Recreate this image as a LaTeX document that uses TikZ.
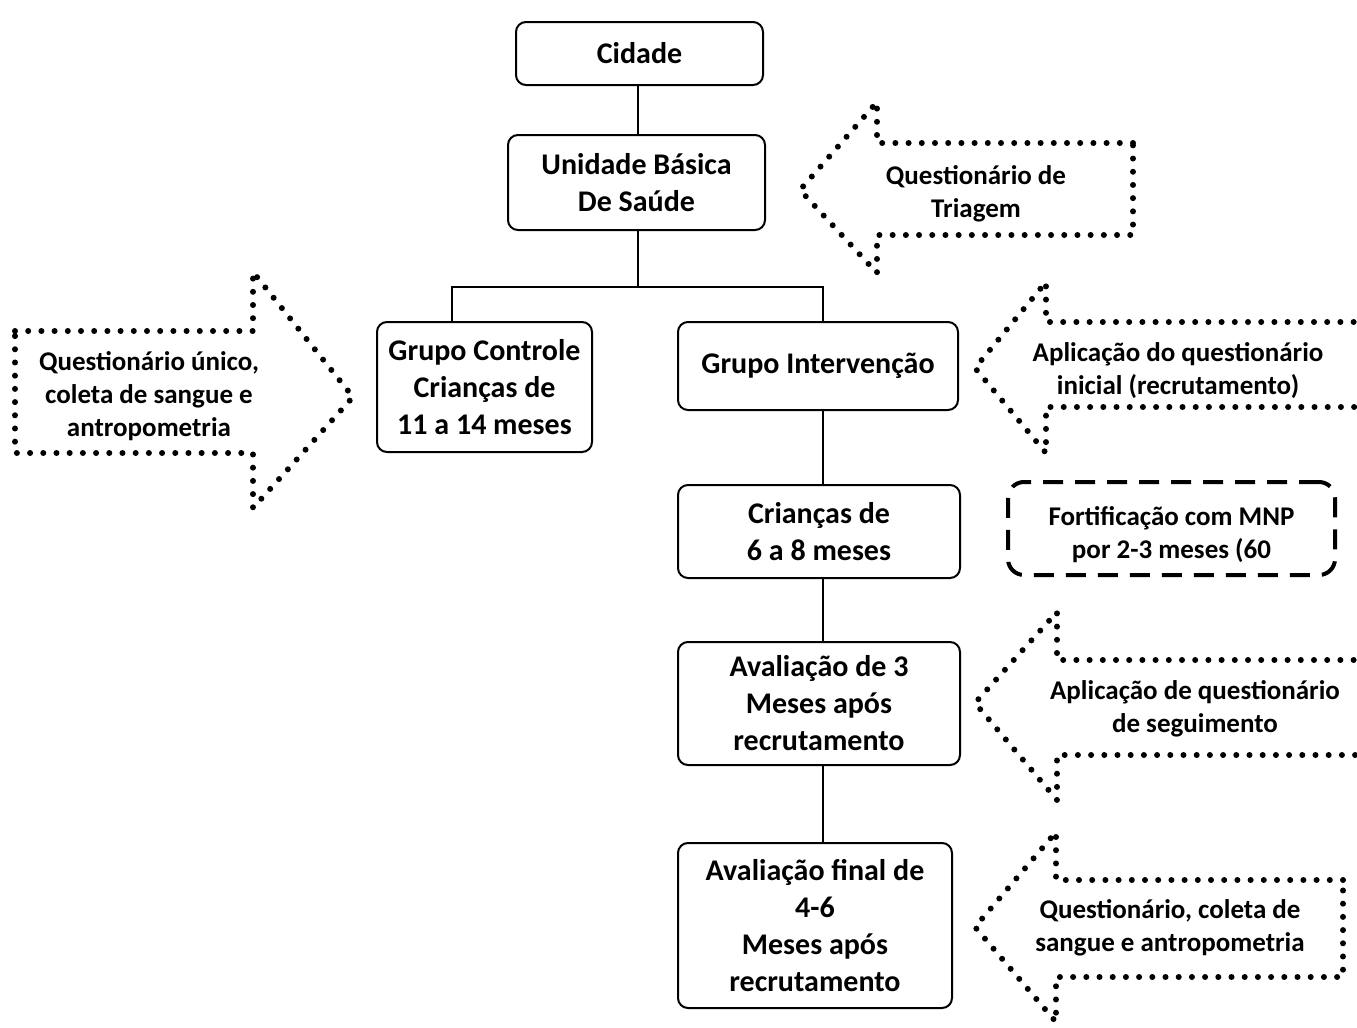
\documentclass[tikz,border=0pt]{standalone}
\usepackage{fontspec}
\setmainfont{Carlito}
\begin{document}
\begin{tikzpicture}[x=0.5pt, y=-0.5pt,
    caixa/.style={rectangle, draw, line width=1pt, rounded corners=5pt, align=center, inner sep=0pt, font=\bfseries\fontsize{15}{18.5}\selectfont},
    seta/.style={draw, line width=3pt, line cap=round, dash pattern=on 0pt off 6.6pt},
    rotulo/.style={align=center, inner sep=0pt, font=\bfseries\fontsize{13.5}{16.5}\selectfont},
    liga/.style={line width=0.8pt}
]
    \clip (0,0) rectangle (1357,1028);
    \fill[white] (0,0) rectangle (1357,1028);

    % caixas do fluxo
    \node[caixa, minimum width=123.5pt, minimum height=31.5pt] (cidade) at (639.5,53.5) {Cidade};
    \node[caixa, minimum width=128.5pt, minimum height=47.5pt] (unidade) at (636.5,182.5) {Unidade Básica\\De Saúde};
    \node[caixa, minimum width=107.5pt, minimum height=65pt] (controle) at (484.5,387) {Grupo Controle\\Crianças de\\11 a 14 meses};
    \node[caixa, minimum width=140pt, minimum height=44pt] (intervencao) at (818,366) {Grupo Intervenção};
    \node[caixa, minimum width=141pt, minimum height=46.5pt] (criancas) at (819,531.5) {Crianças de\\6 a 8 meses};
    \node[caixa, minimum width=141pt, minimum height=61.5pt] (avaliacao) at (819,703.5) {Avaliação de 3\\Meses após\\recrutamento};
    \node[caixa, minimum width=137pt, minimum height=82.5pt] (final) at (815,925.5) {Avaliação final de\\4-6\\Meses após\\recrutamento};

    % ligacoes
    \coordinate (divisao) at (638,287);
    \coordinate (ramoesq) at (452,287);
    \coordinate (ramodir) at (823,287);
    \draw[liga] (cidade.south -| divisao) -- (unidade.north -| divisao);
    \draw[liga] (unidade.south -| divisao) -- (divisao);
    \draw[liga] (ramoesq |- controle.north) -- (ramoesq) -- (ramodir) -- (ramodir |- intervencao.north);
    \draw[liga] (intervencao.south -| ramodir) -- (criancas.north -| ramodir);
    \draw[liga] (criancas.south -| ramodir) -- (avaliacao.north -| ramodir);
    \draw[liga] (avaliacao.south -| ramodir) -- (final.north -| ramodir);

    % setas pontilhadas
    \draw[seta] (1133,143) -- (877,143) -- (877,102) -- (800,190) -- (877,273) -- (877,235) -- (1133,235) -- cycle;
    \node[rotulo] (triagem) at (976,194) {Questionário de\\Triagem};

    \draw[seta] (15,331) -- (253,331) -- (253,272) -- (353,397) -- (253,508) -- (253,453) -- (15,453) -- cycle;
    \node[rotulo] (unico) at (149,396) {Questionário único,\\coleta de sangue e\\antropometria};

    \draw[seta] (1380,322) -- (1046,322) -- (1046,282) -- (975,368) -- (1046,453) -- (1046,407) -- (1380,407);
    \node[rotulo] (inicial) at (1178,371) {Aplicação do questionário\\inicial (recrutamento)};

    \draw[seta] (1380,660) -- (1057,660) -- (1057,612) -- (975,703) -- (1057,800) -- (1057,755) -- (1380,755);
    \node[rotulo] (seguimento) at (1195,709) {Aplicação de questionário\\de seguimento};

    \draw[seta] (1343,880) -- (1056,880) -- (1056,832) -- (975,927) -- (1056,1022) -- (1056,977) -- (1343,977) -- cycle;
    \node[rotulo] (coleta) at (1170,928) {Questionário, coleta de\\sangue e antropometria};

    % caixa tracejada
    \node[draw, line width=2pt, dash pattern=on 10pt off 6pt, rounded corners=8pt, minimum width=163.5pt, minimum height=46.5pt] (caixaMNP) at (1171.5,528.5) {};
    \node[rotulo] (fortificacao) at (1171.5,535) {Fortificação com MNP\\por 2-3 meses (60};
\end{tikzpicture}
\end{document}
